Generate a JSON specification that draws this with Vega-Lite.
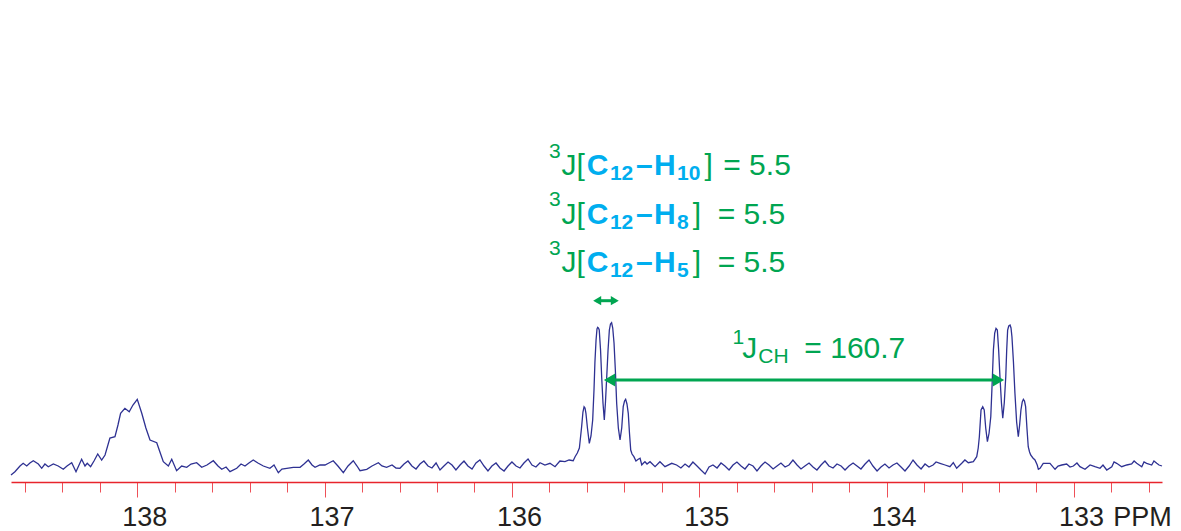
{
  "$schema": "https://vega.github.io/schema/vega-lite/v6.json",
  "width": 1151,
  "height": 482,
  "autosize": {"type": "none"},
  "padding": {"left": 11, "top": 0, "right": 19, "bottom": 49},
  "background": "white",
  "config": {"view": {"stroke": null}, "font": "Liberation Sans"},
  "datasets": {
    "spectrum": [
      {"ppm":138.674,"intensity":-10},{"ppm":138.653,"intensity":-6.7},{"ppm":138.626,"intensity":-1},{"ppm":138.609,"intensity":1.7},{"ppm":138.590,"intensity":-1},{"ppm":138.573,"intensity":2},{"ppm":138.555,"intensity":4.3},{"ppm":138.528,"intensity":1},{"ppm":138.510,"intensity":-3.3},{"ppm":138.493,"intensity":1},{"ppm":138.475,"intensity":-1.7},{"ppm":138.448,"intensity":1},{"ppm":138.422,"intensity":-1},{"ppm":138.395,"intensity":-4.3},{"ppm":138.375,"intensity":-1},{"ppm":138.350,"intensity":2.3},{"ppm":138.327,"intensity":-6.7},{"ppm":138.297,"intensity":5.7},{"ppm":138.279,"intensity":-1},{"ppm":138.267,"intensity":1.7},{"ppm":138.249,"intensity":-1.7},{"ppm":138.231,"intensity":4},{"ppm":138.211,"intensity":11},{"ppm":138.190,"intensity":5},{"ppm":138.172,"intensity":10},{"ppm":138.146,"intensity":27},{"ppm":138.119,"intensity":28.3},{"ppm":138.103,"intensity":40},{"ppm":138.089,"intensity":51.7},{"ppm":138.066,"intensity":56.7},{"ppm":138.043,"intensity":53.3},{"ppm":138.023,"intensity":60},{"ppm":138.000,"intensity":65.7},{"ppm":137.976,"intensity":51.7},{"ppm":137.954,"intensity":37},{"ppm":137.932,"intensity":25},{"ppm":137.896,"intensity":22.3},{"ppm":137.879,"intensity":13},{"ppm":137.861,"intensity":3.3},{"ppm":137.834,"intensity":-1},{"ppm":137.816,"intensity":5.7},{"ppm":137.790,"intensity":-5.7},{"ppm":137.763,"intensity":-1},{"ppm":137.736,"intensity":-2.3},{"ppm":137.713,"intensity":1},{"ppm":137.683,"intensity":2.3},{"ppm":137.656,"intensity":-2.3},{"ppm":137.628,"intensity":0},{"ppm":137.594,"intensity":4.3},{"ppm":137.569,"intensity":-1},{"ppm":137.549,"intensity":-4.3},{"ppm":137.526,"intensity":-2},{"ppm":137.505,"intensity":-6.7},{"ppm":137.469,"intensity":-3.3},{"ppm":137.446,"intensity":1},{"ppm":137.425,"intensity":-1},{"ppm":137.404,"intensity":2},{"ppm":137.381,"intensity":5},{"ppm":137.356,"intensity":2},{"ppm":137.327,"intensity":-1},{"ppm":137.292,"intensity":-3.3},{"ppm":137.270,"intensity":0},{"ppm":137.247,"intensity":-7.7},{"ppm":137.228,"intensity":-4},{"ppm":137.202,"intensity":-3.3},{"ppm":137.167,"intensity":-2.3},{"ppm":137.131,"intensity":-2.3},{"ppm":137.110,"intensity":1},{"ppm":137.087,"intensity":5},{"ppm":137.067,"intensity":0},{"ppm":137.051,"intensity":-2.3},{"ppm":137.025,"intensity":0},{"ppm":136.998,"intensity":0},{"ppm":136.977,"intensity":2},{"ppm":136.954,"intensity":4.3},{"ppm":136.929,"intensity":-1},{"ppm":136.900,"intensity":-7.7},{"ppm":136.875,"intensity":-1},{"ppm":136.847,"intensity":4.3},{"ppm":136.827,"intensity":-1},{"ppm":136.811,"intensity":-5.7},{"ppm":136.775,"intensity":-4.3},{"ppm":136.747,"intensity":-1},{"ppm":136.713,"intensity":2.3},{"ppm":136.694,"intensity":-1},{"ppm":136.669,"intensity":-2.3},{"ppm":136.640,"intensity":0},{"ppm":136.619,"intensity":-3},{"ppm":136.598,"intensity":-3.3},
      {"ppm":136.576,"intensity":1},{"ppm":136.555,"intensity":4},{"ppm":136.534,"intensity":-1},{"ppm":136.512,"intensity":-4},{"ppm":136.491,"intensity":1},{"ppm":136.470,"intensity":4},{"ppm":136.448,"intensity":-1},{"ppm":136.427,"intensity":-3},{"ppm":136.405,"intensity":2},{"ppm":136.384,"intensity":-5},{"ppm":136.363,"intensity":-1},{"ppm":136.341,"intensity":3},{"ppm":136.320,"intensity":0},{"ppm":136.299,"intensity":-5},{"ppm":136.277,"intensity":0},{"ppm":136.256,"intensity":4},{"ppm":136.235,"intensity":-1},{"ppm":136.213,"intensity":-4},{"ppm":136.192,"intensity":2},{"ppm":136.171,"intensity":5},{"ppm":136.149,"intensity":-1},{"ppm":136.128,"intensity":-6},{"ppm":136.107,"intensity":-1},{"ppm":136.085,"intensity":2},{"ppm":136.064,"intensity":-3},{"ppm":136.042,"intensity":-6},{"ppm":136.021,"intensity":-1},{"ppm":136.000,"intensity":3},{"ppm":135.978,"intensity":-1},{"ppm":135.957,"intensity":-3},{"ppm":135.936,"intensity":2},{"ppm":135.914,"intensity":6},{"ppm":135.893,"intensity":0},{"ppm":135.872,"intensity":-2},{"ppm":135.850,"intensity":2.3},{"ppm":135.824,"intensity":0},{"ppm":135.797,"intensity":1.7},{"ppm":135.770,"intensity":-1.7},{"ppm":135.744,"intensity":4},{"ppm":135.717,"intensity":3.3},{"ppm":135.695,"intensity":5},{"ppm":135.673,"intensity":4.3},{"ppm":135.663,"intensity":8.3},{"ppm":135.651,"intensity":12},{"ppm":135.640,"intensity":17},
      {"ppm":135.628,"intensity":38.3},{"ppm":135.621,"intensity":53},{"ppm":135.615,"intensity":58.3},{"ppm":135.610,"intensity":57},{"ppm":135.605,"intensity":51.7},{"ppm":135.597,"intensity":37},{"ppm":135.587,"intensity":21.7},{"ppm":135.578,"intensity":29},{"ppm":135.569,"intensity":45},{"ppm":135.562,"intensity":75},{"ppm":135.557,"intensity":103},{"ppm":135.551,"intensity":125},{"ppm":135.546,"intensity":136},{"ppm":135.542,"intensity":137.7},{"ppm":135.538,"intensity":137},{"ppm":135.534,"intensity":135},{"ppm":135.527,"intensity":115},{"ppm":135.521,"intensity":88.3},{"ppm":135.514,"intensity":62},{"ppm":135.507,"intensity":45},{"ppm":135.501,"intensity":62},{"ppm":135.494,"intensity":88.3},{"ppm":135.487,"intensity":115},{"ppm":135.480,"intensity":135},{"ppm":135.474,"intensity":141},{"ppm":135.468,"intensity":142.3},{"ppm":135.462,"intensity":137},{"ppm":135.455,"intensity":121.7},{"ppm":135.448,"intensity":95},{"ppm":135.441,"intensity":61.7},{"ppm":135.432,"intensity":37},{"ppm":135.423,"intensity":25},{"ppm":135.414,"intensity":37},{"ppm":135.406,"intensity":58.3},{"ppm":135.399,"intensity":64},{"ppm":135.393,"intensity":65.7},{"ppm":135.386,"intensity":61},{"ppm":135.379,"intensity":51.7},{"ppm":135.373,"intensity":33},{"ppm":135.366,"intensity":15},{"ppm":135.359,"intensity":11},{"ppm":135.349,"intensity":8.3},{"ppm":135.338,"intensity":4},{"ppm":135.326,"intensity":5.7},{"ppm":135.316,"intensity":6.7},{"ppm":135.307,"intensity":0},{"ppm":135.299,"intensity":1.7},{"ppm":135.290,"intensity":3.3},{"ppm":135.279,"intensity":1},{"ppm":135.263,"intensity":3.3},{"ppm":135.236,"intensity":-1.7},{"ppm":135.210,"intensity":3.3},{"ppm":135.183,"intensity":-1.7},{"ppm":135.147,"intensity":1.7},{"ppm":135.121,"intensity":0},
      {"ppm":135.098,"intensity":-3},{"ppm":135.076,"intensity":1},{"ppm":135.055,"intensity":-2},{"ppm":135.034,"intensity":3},{"ppm":135.012,"intensity":-1},{"ppm":134.991,"intensity":-5},{"ppm":134.969,"intensity":-9},{"ppm":134.948,"intensity":-2},{"ppm":134.927,"intensity":0},{"ppm":134.905,"intensity":-3},{"ppm":134.884,"intensity":2},{"ppm":134.863,"intensity":-1},{"ppm":134.841,"intensity":-5},{"ppm":134.820,"intensity":0},{"ppm":134.799,"intensity":3},{"ppm":134.777,"intensity":-1},{"ppm":134.756,"intensity":-4},{"ppm":134.735,"intensity":1},{"ppm":134.713,"intensity":-1},{"ppm":134.692,"intensity":-6},{"ppm":134.671,"intensity":-1},{"ppm":134.649,"intensity":3},{"ppm":134.628,"intensity":0},{"ppm":134.606,"intensity":-4},{"ppm":134.585,"intensity":-1},{"ppm":134.564,"intensity":2},{"ppm":134.542,"intensity":-2},{"ppm":134.521,"intensity":0},{"ppm":134.500,"intensity":5},{"ppm":134.478,"intensity":0},{"ppm":134.457,"intensity":-4},{"ppm":134.436,"intensity":-1},{"ppm":134.414,"intensity":2},{"ppm":134.393,"intensity":-2},{"ppm":134.372,"intensity":-5},{"ppm":134.350,"intensity":0},{"ppm":134.329,"intensity":4},{"ppm":134.308,"intensity":-1},{"ppm":134.286,"intensity":-3},{"ppm":134.265,"intensity":1},{"ppm":134.243,"intensity":-1},{"ppm":134.222,"intensity":-5},{"ppm":134.201,"intensity":-1},{"ppm":134.179,"intensity":2},{"ppm":134.158,"intensity":-1},{"ppm":134.137,"intensity":-4},{"ppm":134.115,"intensity":1},{"ppm":134.094,"intensity":5},{"ppm":134.073,"intensity":-1},{"ppm":134.051,"intensity":-6},{"ppm":134.030,"intensity":-2},{"ppm":134.009,"intensity":1},{"ppm":133.987,"intensity":-3},{"ppm":133.966,"intensity":0},{"ppm":133.945,"intensity":2},{"ppm":133.923,"intensity":-2},{"ppm":133.902,"intensity":-6},{"ppm":133.880,"intensity":-1},{"ppm":133.859,"intensity":5},{"ppm":133.838,"intensity":0},{"ppm":133.816,"intensity":-4},{"ppm":133.795,"intensity":1},{"ppm":133.774,"intensity":-2},{"ppm":133.752,"intensity":0},{"ppm":133.736,"intensity":3},{"ppm":133.715,"intensity":1.7},{"ppm":133.688,"intensity":0},{"ppm":133.662,"intensity":-1.7},{"ppm":133.644,"intensity":2.3},{"ppm":133.626,"intensity":-3.3},{"ppm":133.599,"intensity":1.7},{"ppm":133.582,"intensity":5},{"ppm":133.564,"intensity":2.3},{"ppm":133.537,"intensity":3.3},{"ppm":133.519,"intensity":8.3},
      {"ppm":133.511,"intensity":17},{"ppm":133.505,"intensity":28.3},{"ppm":133.496,"intensity":55},{"ppm":133.487,"intensity":58.3},{"ppm":133.479,"intensity":55},{"ppm":133.471,"intensity":37},{"ppm":133.462,"intensity":23.3},{"ppm":133.453,"intensity":32},{"ppm":133.444,"intensity":48.3},{"ppm":133.437,"intensity":80},{"ppm":133.430,"intensity":115},{"ppm":133.423,"intensity":132},{"ppm":133.416,"intensity":136.7},{"ppm":133.409,"intensity":135},{"ppm":133.402,"intensity":115},{"ppm":133.395,"intensity":88.3},{"ppm":133.387,"intensity":62},{"ppm":133.380,"intensity":46.7},{"ppm":133.372,"intensity":62},{"ppm":133.364,"intensity":88.3},{"ppm":133.359,"intensity":115},{"ppm":133.354,"intensity":135},{"ppm":133.348,"intensity":139},{"ppm":133.341,"intensity":140},{"ppm":133.336,"intensity":137},{"ppm":133.331,"intensity":128.3},{"ppm":133.323,"intensity":103},{"ppm":133.315,"intensity":71.7},{"ppm":133.306,"intensity":43},{"ppm":133.297,"intensity":28.3},{"ppm":133.290,"intensity":40},{"ppm":133.283,"intensity":55},{"ppm":133.276,"intensity":63},{"ppm":133.270,"intensity":65.7},{"ppm":133.264,"intensity":64},{"ppm":133.258,"intensity":58.3},{"ppm":133.251,"intensity":37},{"ppm":133.244,"intensity":18.3},{"ppm":133.237,"intensity":13},{"ppm":133.231,"intensity":10},{"ppm":133.219,"intensity":7},{"ppm":133.208,"intensity":5},{"ppm":133.196,"intensity":0},{"ppm":133.190,"intensity":-4.3},{"ppm":133.181,"intensity":-3.3},{"ppm":133.164,"intensity":1.7},{"ppm":133.142,"intensity":1.7},{"ppm":133.128,"intensity":1.7},{"ppm":133.101,"intensity":-4.3},{"ppm":133.085,"intensity":-1},{"ppm":133.065,"intensity":0},{"ppm":133.039,"intensity":1},{"ppm":133.021,"intensity":-2},{"ppm":133.003,"intensity":-1},{"ppm":132.984,"intensity":2},{"ppm":132.968,"intensity":-1.7},{"ppm":132.941,"intensity":-4.3},{"ppm":132.914,"intensity":0},{"ppm":132.888,"intensity":-1.7},{"ppm":132.861,"intensity":-3.3},{"ppm":132.845,"intensity":0},{"ppm":132.825,"intensity":-5},{"ppm":132.798,"intensity":-1.7},{"ppm":132.786,"intensity":3},{"ppm":132.772,"intensity":1.7},{"ppm":132.745,"intensity":-1.7},{"ppm":132.718,"intensity":0},{"ppm":132.692,"intensity":1},{"ppm":132.679,"intensity":4},{"ppm":132.665,"intensity":1.7},{"ppm":132.638,"intensity":-1.7},{"ppm":132.626,"intensity":3},{"ppm":132.612,"intensity":1.7},{"ppm":132.585,"intensity":0},{"ppm":132.573,"intensity":4},{"ppm":132.558,"intensity":1.7},{"ppm":132.546,"intensity":0},{"ppm":132.530,"intensity":-1}
    ],
    "labels": [
      {"ppm":135.802,"intensity":307,"text":"3","kind":"small"},
      {"ppm":135.736,"intensity":290,"text":"J[","kind":"main"},
      {"ppm":135.600,"intensity":290,"text":"C","kind":"atom"},
      {"ppm":135.477,"intensity":285,"text":"12","kind":"atomsub"},
      {"ppm":135.338,"intensity":290,"text":"–","kind":"atom"},
      {"ppm":135.242,"intensity":290,"text":"H","kind":"atom"},
      {"ppm":135.119,"intensity":285,"text":"10","kind":"atomsub"},
      {"ppm":134.972,"intensity":290,"text":"]","kind":"main"},
      {"ppm":134.872,"intensity":290,"text":"= 5.5","kind":"main"},
      {"ppm":135.802,"intensity":259,"text":"3","kind":"small"},
      {"ppm":135.736,"intensity":241.5,"text":"J[","kind":"main"},
      {"ppm":135.600,"intensity":241.5,"text":"C","kind":"atom"},
      {"ppm":135.477,"intensity":236.5,"text":"12","kind":"atomsub"},
      {"ppm":135.338,"intensity":241.5,"text":"–","kind":"atom"},
      {"ppm":135.242,"intensity":241.5,"text":"H","kind":"atom"},
      {"ppm":135.119,"intensity":236.5,"text":"8","kind":"atomsub"},
      {"ppm":135.035,"intensity":241.5,"text":"]","kind":"main"},
      {"ppm":134.902,"intensity":241.5,"text":"= 5.5","kind":"main"},
      {"ppm":135.802,"intensity":210.5,"text":"3","kind":"small"},
      {"ppm":135.736,"intensity":193,"text":"J[","kind":"main"},
      {"ppm":135.600,"intensity":193,"text":"C","kind":"atom"},
      {"ppm":135.477,"intensity":188,"text":"12","kind":"atomsub"},
      {"ppm":135.338,"intensity":193,"text":"–","kind":"atom"},
      {"ppm":135.242,"intensity":193,"text":"H","kind":"atom"},
      {"ppm":135.119,"intensity":188,"text":"5","kind":"atomsub"},
      {"ppm":135.035,"intensity":193,"text":"]","kind":"main"},
      {"ppm":134.902,"intensity":193,"text":"= 5.5","kind":"main"},
      {"ppm":134.823,"intensity":121,"text":"1","kind":"small"},
      {"ppm":134.770,"intensity":106.7,"text":"J","kind":"main"},
      {"ppm":134.685,"intensity":101.7,"text":"CH","kind":"small"},
      {"ppm":134.439,"intensity":106.7,"text":"= 160.7","kind":"main"}
    ],
    "shafts": [
      {"from":135.551,"to":135.445,"intensity":164.3,"arrow":"small"},
      {"from":135.498,"to":133.395,"intensity":85,"arrow":"large"}
    ],
    "heads": [
      {"ppm":135.545,"intensity":164.3,"dir":"left","arrow":"small"},
      {"ppm":135.451,"intensity":164.3,"dir":"right","arrow":"small"},
      {"ppm":135.479,"intensity":85,"dir":"left","arrow":"large"},
      {"ppm":133.403,"intensity":85,"dir":"right","arrow":"large"}
    ],
    "unit": [
      {"ppm":132.790,"intensity":-61,"text":"PPM"}
    ]
  },
  "encoding": {
    "x": {
      "field": "ppm", "type": "quantitative",
      "scale": {"domain": [138.674, 132.530], "nice": false, "zero": false},
      "axis": {
        "title": null,
        "orient": "bottom",
        "values": [138.6,138.4,138.2,138,137.8,137.6,137.4,137.2,137,136.8,136.6,136.4,136.2,136,135.8,135.6,135.4,135.2,135,134.8,134.6,134.4,134.2,134,133.8,133.6,133.4,133.2,133,132.8,132.6],
        "domainColor": "#E8242C",
        "domainWidth": 1.5,
        "tickColor": "#EE5058",
        "tickWidth": 1,
        "tickSize": {"condition": {"test": "abs(datum.value - round(datum.value)) < 0.001", "value": 15}, "value": 10},
        "labelExpr": "abs(datum.value - round(datum.value)) < 0.001 ? format(datum.value, 'd') : ''",
        "labelFont": "Liberation Sans",
        "labelFontSize": 27,
        "labelColor": "#231F20",
        "labelPadding": 7,
        "labelOffset": 7,
        "labelOverlap": false,
        "labelFlush": false,
        "grid": false
      }
    },
    "y": {
      "field": "intensity", "type": "quantitative",
      "scale": {"domain": [-17, 465], "nice": false, "zero": false},
      "axis": null
    }
  },
  "layer": [
    {
      "data": {"name": "spectrum"},
      "mark": {"type": "line", "color": "#2E3192", "strokeWidth": 1.3, "interpolate": "linear"}
    },
    {
      "data": {"name": "shafts"},
      "transform": [{"filter": "datum.arrow == 'small'"}],
      "mark": {"type": "rule", "color": "#00A551", "strokeWidth": 3},
      "encoding": {"x": {"field": "from", "type": "quantitative"}, "x2": {"field": "to"}}
    },
    {
      "data": {"name": "shafts"},
      "transform": [{"filter": "datum.arrow == 'large'"}],
      "mark": {"type": "rule", "color": "#00A551", "strokeWidth": 3},
      "encoding": {"x": {"field": "from", "type": "quantitative"}, "x2": {"field": "to"}}
    },
    {
      "data": {"name": "heads"},
      "transform": [{"filter": "datum.arrow == 'small'"}],
      "mark": {"type": "point", "filled": true, "color": "#00A551", "opacity": 1, "size": 85},
      "encoding": {"shape": {"field": "dir", "type": "nominal", "scale": {"domain": ["left", "right"], "range": ["triangle-left", "triangle-right"]}, "legend": null}}
    },
    {
      "data": {"name": "heads"},
      "transform": [{"filter": "datum.arrow == 'large'"}],
      "mark": {"type": "point", "filled": true, "color": "#00A551", "opacity": 1, "size": 170},
      "encoding": {"shape": {"field": "dir", "type": "nominal", "scale": {"domain": ["left", "right"], "range": ["triangle-left", "triangle-right"]}, "legend": null}}
    },
    {
      "data": {"name": "labels"},
      "transform": [{"filter": "datum.kind == 'main'"}],
      "mark": {"type": "text", "align": "left", "baseline": "alphabetic", "font": "Liberation Sans", "fontSize": 30, "color": "#00A551"},
      "encoding": {"text": {"field": "text"}}
    },
    {
      "data": {"name": "labels"},
      "transform": [{"filter": "datum.kind == 'small'"}],
      "mark": {"type": "text", "align": "left", "baseline": "alphabetic", "font": "Liberation Sans", "fontSize": 21, "color": "#00A551"},
      "encoding": {"text": {"field": "text"}}
    },
    {
      "data": {"name": "labels"},
      "transform": [{"filter": "datum.kind == 'atom'"}],
      "mark": {"type": "text", "align": "left", "baseline": "alphabetic", "font": "Liberation Sans", "fontSize": 30, "fontWeight": "bold", "color": "#00AEEF"},
      "encoding": {"text": {"field": "text"}}
    },
    {
      "data": {"name": "labels"},
      "transform": [{"filter": "datum.kind == 'atomsub'"}],
      "mark": {"type": "text", "align": "left", "baseline": "alphabetic", "font": "Liberation Sans", "fontSize": 21, "fontWeight": "bold", "color": "#00AEEF"},
      "encoding": {"text": {"field": "text"}}
    },
    {
      "data": {"name": "unit"},
      "mark": {"type": "text", "align": "left", "baseline": "alphabetic", "font": "Liberation Sans", "fontSize": 27, "color": "#231F20"},
      "encoding": {"text": {"field": "text"}}
    }
  ]
}
